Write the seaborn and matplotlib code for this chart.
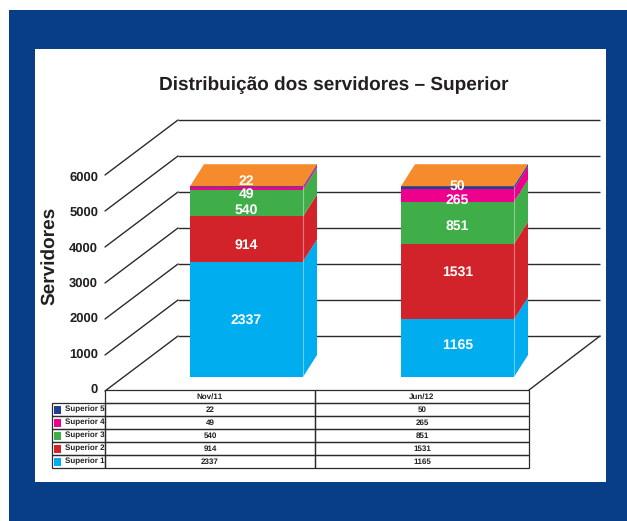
import matplotlib
matplotlib.use("Agg")
import matplotlib.pyplot as plt
from matplotlib.patches import Rectangle
import seaborn as sns

# ---- data ----
periods = ["Nov/11", "Jun/12"]
series_names = ["Superior 1", "Superior 2", "Superior 3", "Superior 4", "Superior 5"]
superior_1 = [2337, 1165]
superior_2 = [914, 1531]
superior_3 = [540, 851]
superior_4 = [49, 265]
superior_5 = [22, 50]
value_ticks = [0, 1000, 2000, 3000, 4000, 5000, 6000]
title_text = "Distribuição dos servidores – Superior"
y_title = "Servidores"

# ---- style ----
series_colors = ["#00AEEF", "#D2232A", "#3FAE49", "#EC008C", "#243C92"]
top_color = "#F68B2D"
frame_color = "#083E88"
line_color = "#2B2B2B"
text_color = "#231F20"

sns.set_theme(style="white")
plt.rcParams["font.family"] = ["Liberation Sans", "DejaVu Sans"]
plt.rcParams["text.hinting"] = "no_hinting"
plt.rcParams["text.hinting_factor"] = 1

W, H = 627, 521
fig = plt.figure(figsize=(W / 100, H / 100), dpi=100, facecolor="white")


def px_axes(x0, y_top, x1, y_bottom, z):
    """Axes placed by pixel box of the picture (y measured from the top)."""
    return fig.add_axes([x0 / W, 1 - y_bottom / H, (x1 - x0) / W, (y_bottom - y_top) / H], zorder=z)


def px_rect(x0, y0, x1, y1, color, z):
    fig.add_artist(Rectangle((x0 / W, 1 - y1 / H), (x1 - x0) / W, (y1 - y0) / H,
                             transform=fig.transFigure, color=color, lw=0, zorder=z))


px_rect(9, 10, 627, 521, frame_color, -3)
px_rect(35, 49, 606, 482, "white", -2)

# ---- back wall with its grid, in value units ----
wall = px_axes(178, 120, 600, 336, 1)
wall.set_xlim(178, 600)
wall.set_ylim(0, 6000)
wall.axis("off")
wall.patch.set_alpha(0)
wall_per_px = 6000 / 216
wall.hlines(value_ticks, 178, 600, color=line_color, lw=1.0, clip_on=False)
for v in value_ticks:
    wall.plot([178, 105], [v, v - 55 * wall_per_px], color=line_color, lw=1.0, clip_on=False)
wall.plot([600, 529], [0, -54 * wall_per_px], color=line_color, lw=1.0, clip_on=False)

# ---- value axis labels on the front edge ----
value_ax = px_axes(103, 176, 104, 388, 2)
value_ax.set_ylim(0, 6000)
value_ax.set_xticks([])
value_ax.set_yticks(value_ticks)
value_ax.tick_params(axis="y", length=0, pad=3.5, labelsize=9.5, labelcolor=text_color)
for lab in value_ax.get_yticklabels():
    lab.set_fontweight("bold")
value_ax.patch.set_alpha(0)
for s in value_ax.spines.values():
    s.set_visible(False)
fig.text(58.5 / W, 1 - 255.5 / H, y_title, rotation=90, ha="right", va="center",
         fontsize=13.7, fontweight="bold", color=text_color)

# ---- stacked bars ----
bars = px_axes(0, 0, W, H, 3)
bars.patch.set_alpha(0)
px_per_value = 0.0494
px_per_cat = 211.0
bar_width = 113 / px_per_cat
depth_x = 14 / px_per_cat
depth_y = 22 / px_per_value

stack = [superior_1, superior_2, superior_3, superior_4, superior_5]
bottoms = [0, 0]
label_nudges = [(-1, 3), (-6.5, 9), (-7, -3.5), (-5.5, -5), (5.5, 1)]

for vals, col, nudge in zip(stack, series_colors, label_nudges):
    sns.barplot(x=periods, y=vals, bottom=bottoms, color=col, saturation=1,
                width=bar_width, linewidth=0, ax=bars)
    for i, v in enumerate(vals):
        b = bottoms[i]
        right = i + bar_width / 2
        bars.fill([right, right + depth_x, right + depth_x, right],
                  [b, b + depth_y, b + v + depth_y, b + v], color=col, lw=0, zorder=4)
        bars.annotate(str(v), (i, b + v / 2), xytext=(0, nudge[i] * 0.72),
                      textcoords="offset points", ha="center", va="center",
                      color="white", fontsize=10, fontweight="bold", zorder=6)
    bottoms = [b + v for b, v in zip(bottoms, vals)]

for i, total in enumerate(bottoms):
    left, right = i - bar_width / 2, i + bar_width / 2
    bars.fill([left, right, right + depth_x, left + depth_x],
              [total, total, total + depth_y, total + depth_y], color=top_color, lw=0, zorder=3)
    bars.vlines(right, 0, total, color="white", alpha=0.4, lw=0.8, zorder=5)

bars.set_xlim(-246.5 / px_per_cat, (W - 246.5) / px_per_cat)
bars.set_ylim((377 - H) / px_per_value, 377 / px_per_value)
bars.axis("off")

# ---- data table ----
tab_ax = px_axes(52, 390, 529, 468, 4)
tab_ax.patch.set_alpha(0)
tab_ax.axis("off")
rows = [["", *periods]]
for name, vals in zip(series_names[::-1], stack[::-1]):
    rows.append([name, *[str(v) for v in vals]])
table = tab_ax.table(cellText=rows, cellLoc="center", bbox=[0, 0, 1, 1],
                     colWidths=[53 / 477, 210 / 477, 214 / 477])
table.auto_set_font_size(False)
for (r, c), cell in table.get_celld().items():
    cell.set_edgecolor(line_color)
    cell.set_linewidth(0.9)
    cell.set_facecolor("none")
    txt = cell.get_text()
    txt.set_fontsize(5.6)
    txt.set_fontweight("bold")
    txt.set_color(text_color)
    if c == 0:
        cell.set_text_props(ha="right")
        cell.PAD = 0.01
    if r == 0 and c == 0:
        cell.visible_edges = ""

row_h = 1 / 6
sw_w = 7 / 477
for k, col in enumerate(series_colors[::-1]):
    y = 1 - row_h * (k + 2) + 2 / 78
    tab_ax.add_patch(Rectangle((1.5 / 477, y), sw_w, 8.5 / 78, color=col, lw=0,
                               transform=tab_ax.transAxes, zorder=10))

fig.text(333.5 / W, 1 - 85 / H, title_text, ha="center", va="center",
         fontsize=13.35, fontweight="bold", color=text_color)

fig.savefig("out.png", dpi=100, facecolor="white")
